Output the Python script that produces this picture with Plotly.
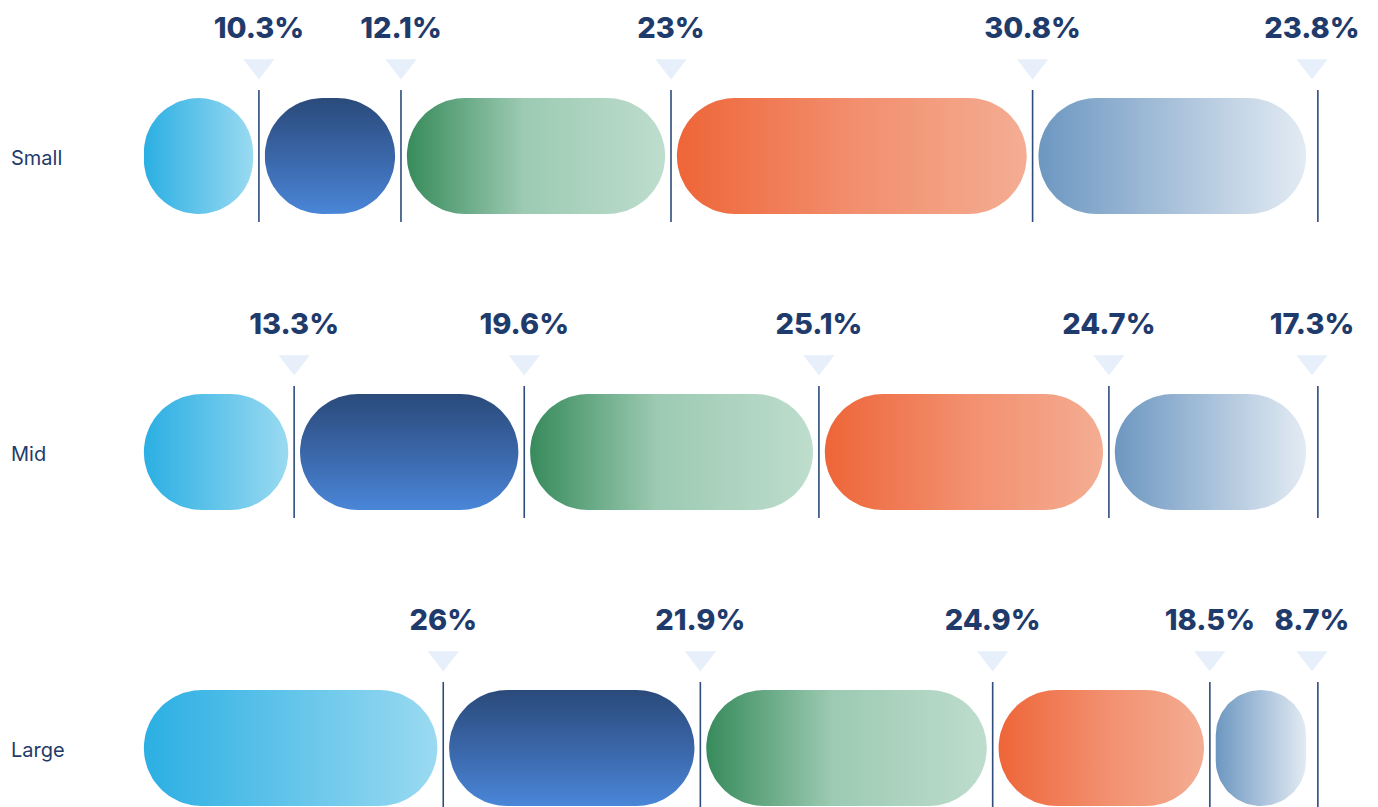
import numpy as np
import plotly.graph_objects as go

# ---- data ----
rows = ["Small", "Mid", "Large"]
small_vals = [10.3, 12.1, 23.0, 30.8, 23.8]
mid_vals = [13.3, 19.6, 25.1, 24.7, 17.3]
large_vals = [26.0, 21.9, 24.9, 18.5, 8.7]
label_small = ["10.3%", "12.1%", "23%", "30.8%", "23.8%"]
label_mid = ["13.3%", "19.6%", "25.1%", "24.7%", "17.3%"]
label_large = ["26%", "21.9%", "24.9%", "18.5%", "8.7%"]

values = [small_vals, mid_vals, large_vals]
labels = [label_small, label_mid, label_large]

# ---- styles ----
W, H = 1378, 807
SX = 11.74            # px per percent unit
X0_PX = 138.0         # pixel position of 0%
SY = 296.0            # px per row unit
Y0_PX = 156.0         # pixel centre of first row
xr = [-X0_PX / SX, (W - X0_PX) / SX]
yr = [(H - Y0_PX) / SY, -Y0_PX / SY]

BAR_HALF_PX = 58
GAP = 0.5
navy = "#1F3B6B"
line_col = "#2E4C7C"
tri_col = "#E6EFFA"

gradients = [
    ("horizontal", [[0, "#2BAFE3"], [1, "#9ADAF1"]]),
    ("vertical", [[0, "#4A86D8"], [0.5, "#3A66A8"], [1, "#2A4A7A"]]),
    ("horizontal", [[0, "#378B5B"], [0.45, "#9CCAB2"], [1, "#BEDDCD"]]),
    ("horizontal", [[0, "#EE6538"], [0.5, "#F28E6D"], [1, "#F4AD93"]]),
    ("horizontal", [[0, "#6D97C1"], [1, "#E3EBF3"]]),
]


def pill(x0, x1, yc):
    wpx = (x1 - x0) * SX
    r = min(BAR_HALF_PX, wpx / 2)
    rx, ry = r / SX, r / SY
    hy = BAR_HALF_PX / SY
    pts = []
    n = 24
    corners = [
        (x1 - rx, yc - hy + ry, -np.pi / 2, 0),
        (x1 - rx, yc + hy - ry, 0, np.pi / 2),
        (x0 + rx, yc + hy - ry, np.pi / 2, np.pi),
        (x0 + rx, yc - hy + ry, np.pi, 1.5 * np.pi),
    ]
    for cx, cy, a0, a1 in corners:
        t = np.linspace(a0, a1, n)
        pts.extend(zip(cx + rx * np.cos(t), cy + ry * np.sin(t)))
    pts.append(pts[0])
    xs, ys = zip(*pts)
    return list(xs), list(ys)


fig = go.Figure()

for i, (vals, labs) in enumerate(zip(values, labels)):
    cum = np.cumsum([0] + vals)
    n = len(vals)
    for j, v in enumerate(vals):
        x0, x1 = cum[j] + GAP, cum[j + 1] - GAP
        xs, ys = pill(x0, x1, i)
        gtype, cs = gradients[j]
        fig.add_trace(go.Scatter(
            x=xs, y=ys, mode="lines", fill="toself",
            line=dict(width=0, color="rgba(0,0,0,0)"),
            fillgradient=dict(type=gtype, colorscale=cs),
            hoverinfo="skip", showlegend=False))
    # boundary lines
    for j in range(n):
        xe = cum[j + 1] + (0.5 if j == n - 1 else 0)
        fig.add_trace(go.Scatter(
            x=[xe, xe], y=[i - 66 / SY, i + 66 / SY], mode="lines",
            line=dict(color=line_col, width=1.6),
            hoverinfo="skip", showlegend=False))
    # triangles
    fig.add_trace(go.Scatter(
        x=list(cum[1:]), y=[i - 90 / SY] * n, mode="markers",
        marker=dict(symbol="triangle-down", size=27, color=tri_col,
                    line=dict(width=0)),
        hoverinfo="skip", showlegend=False))
    # value labels
    fig.add_trace(go.Scatter(
        x=list(cum[1:]), y=[i - 125 / SY] * n, mode="text",
        text=labs, textposition="middle center",
        textfont=dict(family="Inter", size=29, color=navy, weight=800),
        hoverinfo="skip", showlegend=False))
    # row label
    fig.add_annotation(x=9 / W, xref="paper", xanchor="left",
                       y=i + 2 / SY, yref="y", text=rows[i], showarrow=False,
                       font=dict(family="Inter", size=20, color=navy))

fig.update_layout(
    width=W, height=H, margin=dict(l=0, r=0, t=0, b=0),
    paper_bgcolor="white", plot_bgcolor="white",
    xaxis=dict(range=xr, visible=False, fixedrange=True),
    yaxis=dict(range=yr, visible=False, fixedrange=True),
)

fig.write_html("out.html")
